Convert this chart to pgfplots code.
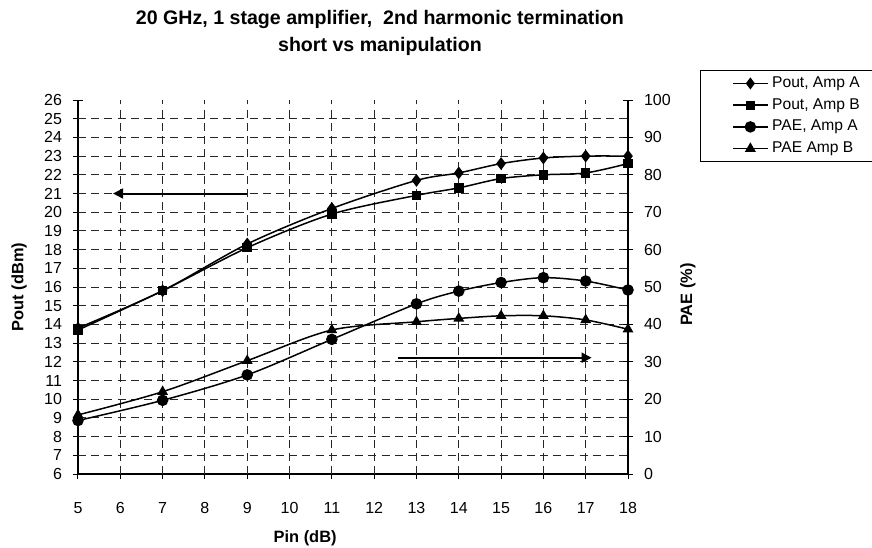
\documentclass[border=0pt]{standalone}
\usepackage{fontspec}
\setmainfont{Liberation Sans}
\usepackage{pgfplots}
\pgfplotsset{compat=1.18}
\usetikzlibrary{arrows.meta}

\pgfplotstableread{
pin poutA poutB paeA paeB
5  13.8 13.7 14.3 15.8
7  15.8 15.8 19.7 22.0
9  18.3 18.1 26.5 30.3
11 20.2 19.9 36.0 38.5
13 21.7 20.9 45.5 40.7
14 22.1 21.3 48.9 41.6
15 22.6 21.8 51.2 42.3
16 22.9 22.0 52.5 42.3
17 23.0 22.1 51.6 41.2
18 23.0 22.6 49.2 38.7
}\ampdata

\pgfplotsset{
  common/.style={
    scale only axis, width=275pt, height=187pt,
    at={(0,0)}, anchor=south west,
    xmin=5, xmax=18,
    clip mode=individual,
    tick align=center, major tick length=5pt,
    tick style={black, line width=0.5pt},
    axis line style={black, line width=0.6pt},
    /pgf/number format/assume math mode=true,
    tick label style={font=\fontsize{8}{9}\selectfont},
    label style={font=\fontsize{8.2}{10}\selectfont\bfseries},
  },
  dline/.style={black, line width=0.75pt, smooth, tension=0.5},
}

\begin{document}
\begin{tikzpicture}[x=1pt,y=1pt]
\useasboundingbox (-39,-36.5) rectangle (397,237);
\begin{axis}[common,
  ymin=6, ymax=26,
  axis x line*=bottom, axis y line*=left,
  xtick={5,...,18}, ytick={6,...,26},
  extra x ticks={6,...,17}, extra x tick labels={},
  extra y ticks={7,...,25}, extra y tick labels={},
  extra tick style={grid=major, major tick length=0pt},
  major grid style={black!85, line width=0.45pt, dash pattern=on 4pt off 2.6pt},
  yticklabel style={xshift=-2pt},
  xticklabel style={yshift=-8pt},
  xlabel={Pin (dB)},
  xlabel style={at={(axis description cs:0.413,-0.171)}, anchor=center},
  ylabel={Pout (dBm)},
  ylabel style={at={(axis description cs:-0.107,0.5)}, anchor=center},
]
\addplot[dline, mark=diamond*, mark size=2.6pt] table[x=pin, y=poutA] {\ampdata};
\addplot[dline, mark=square*, mark size=2pt] table[x=pin, y=poutB] {\ampdata};
\draw[line width=1pt, -{Triangle[length=5pt, width=5pt]}] (axis cs:9,21) -- (axis cs:5.83,21);
\node[align=center, font=\fontsize{9.8}{13.5}\selectfont\bfseries] at (axis description cs:0.549,1.178)
  {20 GHz, 1 stage amplifier,\ \ 2nd harmonic termination\\short vs manipulation};
\end{axis}
\begin{axis}[common,
  ymin=0, ymax=100,
  axis y line*=right, axis x line=none,
  ytick={0,10,...,100},
  yticklabel style={xshift=2pt},
  ylabel={PAE (\%)},
  ylabel style={at={(axis description cs:1.109,0.48)}, anchor=center},
  legend style={at={(axis description cs:1.131,1.080)}, anchor=north west,
    draw=black, line width=0.5pt, inner xsep=16pt, inner ysep=1pt,
    font=\fontsize{7.8}{8}\selectfont, row sep=0pt},
  legend cell align=left,
]
\addlegendimage{dline, mark=diamond*, mark size=2.4pt}
\addlegendentry{Pout, Amp A\hspace*{6pt}}
\addlegendimage{dline, mark=square*, mark size=1.8pt}
\addlegendentry{Pout, Amp B}
\addplot[dline, mark=*, mark size=2.5pt] table[x=pin, y=paeA] {\ampdata};
\addlegendentry{PAE, Amp A}
\addplot[dline, mark=triangle*, mark size=2.4pt] table[x=pin, y=paeB] {\ampdata};
\addlegendentry{PAE Amp B}
\draw[line width=1pt, -{Triangle[length=5pt, width=5pt]}] (axis cs:12.57,31.1) -- (axis cs:17.14,31.1);
\end{axis}
\end{tikzpicture}
\end{document}
